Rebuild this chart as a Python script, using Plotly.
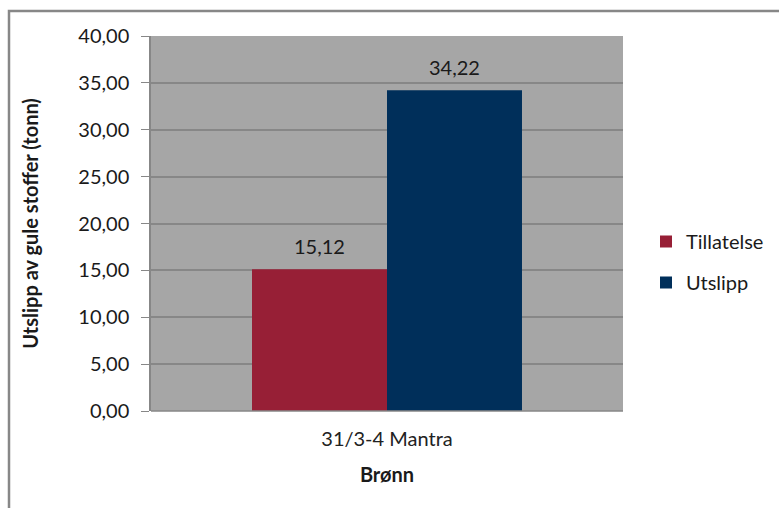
import plotly.graph_objects as go

categories = ["31/3-4 Mantra"]
series_names = ["Tillatelse", "Utslipp"]
tillatelse = [15.12]
utslipp = [34.22]
colors = ["#971F36", "#002F5A"]

W, H = 779, 508
L, R, T, B = 151, 623, 36, 411
BARGAP = 0.428

fig = go.Figure()
for i, (name, vals, c) in enumerate(zip(series_names, [tillatelse, utslipp], colors)):
    fig.add_trace(go.Bar(
        x=categories, y=vals, name=name, legendgroup=name,
        marker=dict(color=c, line=dict(width=0)),
    ))

# data labels above bars
bar_w = (R - L) * (1 - BARGAP) / 2
for i, vals in enumerate([tillatelse, utslipp]):
    for cat, v in zip(categories, vals):
        fig.add_annotation(x=cat, y=v, xref="x", yref="y", text=f"{v:.2f}".replace(".", ","),
                           showarrow=False, yanchor="bottom", xshift=(i - 0.5) * bar_w, yshift=9,
                           font=dict(size=20, color="#1a1a1a", family="Lato"))

fig.update_layout(
    width=W, height=H, barmode="group", bargap=BARGAP, bargroupgap=0,
    separators=",.",
    paper_bgcolor="white", plot_bgcolor="#A6A6A6",
    margin=dict(l=L, r=W - R, t=T, b=H - B, pad=0, autoexpand=False),
    font=dict(family="Lato", size=20, color="#1a1a1a"),
    showlegend=True,
    legend=dict(x=(646 - L) / (R - L), y=(H - 262 - (H - B)) / (B - T), xref="paper",
                xanchor="left", yanchor="middle", font=dict(size=20),
                itemwidth=30, tracegroupgap=12, bgcolor="rgba(0,0,0,0)"),
    xaxis=dict(showgrid=False, ticks="", showline=False, automargin=False,
               ticklabelstandoff=14,
               tickfont=dict(size=20, color="#222222"),
               title=dict(text="<b>Brønn</b>", font=dict(size=20, color="#1a1a1a"), standoff=18)),
    yaxis=dict(range=[0, 40], dtick=5, tickformat=".2f", showgrid=True, gridcolor="#878787",
               gridwidth=1.5, ticks="outside", ticklen=8, tickcolor="#878787",
               showline=True, linecolor="#878787", linewidth=1.5, zeroline=False,
               ticklabelstandoff=8, automargin=False,
               tickfont=dict(size=20, color="#1a1a1a"),
               title=dict(text="<b>Utslipp av gule stoffer (tonn)</b>",
                          font=dict(size=20, color="#1a1a1a"), standoff=34)),
)

fig.add_shape(type="rect", xref="paper", yref="paper",
              x0=(9 - L) / (R - L), x1=(790 - L) / (R - L),
              y0=(H - 520 - (H - B)) / (B - T), y1=(H - 11 - (H - B)) / (B - T),
              line=dict(color="#878787", width=2.5), fillcolor="rgba(0,0,0,0)", layer="below")
fig.add_shape(type="line", xref="paper", yref="paper", x0=0, x1=1, y0=0, y1=0,
              line=dict(color="#878787", width=1.5))

fig.write_html("out.html")
